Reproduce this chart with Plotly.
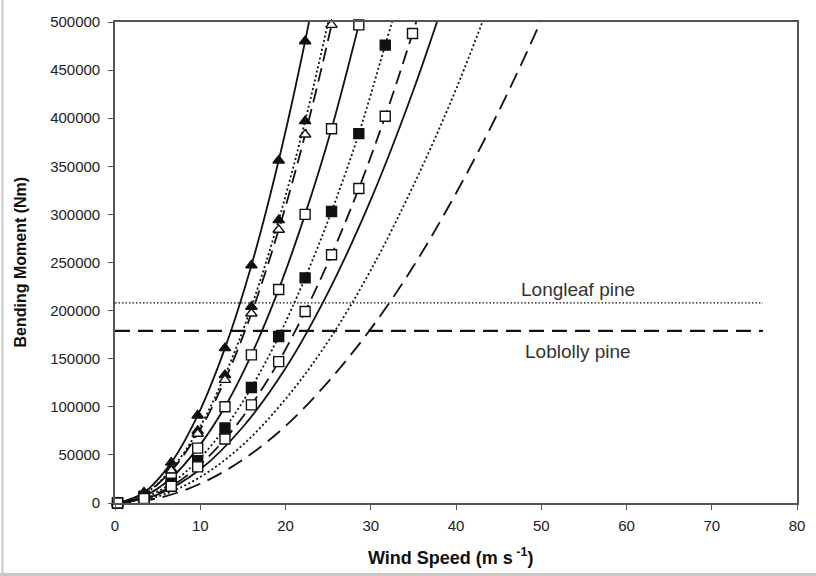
import plotly.graph_objects as go

# ---- data ----
speed_mk = [0.3, 3.4, 6.6, 9.7, 12.9, 16.0, 19.2, 22.3, 25.4, 28.6, 31.7, 34.9, 38.0]

# group 1 : steepest curves (triangles)
g1_solid_line = [0, 11000, 42000, 91000, 161000, 247000, 356000, 480000, 623000]
g1_solid_mk = [0, 11000, 42000, 91000, 161000, 247000, 356000, 480000]
g1_dot_line = [0, 9000, 35000, 75000, 133000, 204000, 294000, 397000, 515000]
g1_dot_mk = [0, 9000, 35000, 75000, 133000, 204000, 294000, 397000]
g1_dash_line = [0, 8900, 33500, 72000, 128000, 197000, 284000, 383000, 497000, 630000]
g1_dash_mk = [0, 8900, 33500, 72000, 128000, 197000, 284000, 383000, 497000]

# group 2 : squares
g2_solid_line = [0, 7000, 26000, 57000, 100000, 154000, 222000, 300000, 389000, 497000, 606000]
g2_solid_mk = [0, 7000, 26000, 57000, 100000, 154000, 222000, 300000, 389000, 497000]
g2_dot_line = [0, 5400, 20500, 44000, 78000, 120000, 173000, 234000, 303000, 384000, 476000, 573000]
g2_dot_mk = [0, 5400, 20500, 44000, 78000, 120000, 173000, 234000, 303000, 384000, 476000]
g2_dash_line = [0, 4600, 17400, 37600, 66500, 102000, 147000, 199000, 258000, 327000, 402000, 488000, 578000]
g2_dash_mk = [0, 4600, 17400, 37600, 66500, 102000, 147000, 199000, 258000, 327000, 402000, 488000]

# group 3 : curves without markers
speed_ln = [0, 5, 10, 15, 20, 25, 30, 35, 40, 45, 50, 55]
g3_solid = [0, 8750, 35000, 79000, 140000, 219000, 315000, 429000, 560000]
g3_dot = [0, 6700, 27000, 60500, 108000, 168000, 242000, 330000, 430000, 545000]
g3_dash = [0, 5000, 20000, 45000, 80000, 126000, 181000, 246000, 322000, 407000, 502000, 608000]

# critical bending moments
thresh_x = [0, 76]
longleaf = 208000
loblolly = 179000
thresh_labels = ["Longleaf pine", "Loblolly pine"]
label_pos_x = 54.3
label_pos_y = [222000, 157000]

x_ticks = [0, 10, 20, 30, 40, 50, 60, 70, 80]
y_ticks = [0, 50000, 100000, 150000, 200000, 250000, 300000, 350000, 400000, 450000, 500000]

FONT = "Liberation Sans, Arial, sans-serif"
BLK = "#111111"
DOT = "2px,2.5px"
DASH = "14px,7px"

fig = go.Figure()


def line(x, y, dash, width=1.8):
    fig.add_trace(go.Scatter(
        x=x[:len(y)], y=y, mode="lines", line=dict(color=BLK, width=width, dash=dash, shape="spline", smoothing=1.0),
        showlegend=False, hoverinfo="skip"))


def marks(x, y, symbol, filled):
    fig.add_trace(go.Scatter(
        x=x[:len(y)], y=y, mode="markers", cliponaxis=False,
        marker=dict(symbol=symbol, size=10, color=BLK if filled else "white",
                    line=dict(color=BLK, width=1.4)),
        showlegend=False, hoverinfo="skip"))


# lines
line(speed_mk, g1_solid_line, "solid")
line(speed_mk, g1_dot_line, DOT)
line(speed_mk, g1_dash_line, DASH)
line(speed_mk, g2_solid_line, "solid")
line(speed_mk, g2_dot_line, DOT)
line(speed_mk, g2_dash_line, DASH)
line(speed_ln, g3_solid, "solid")
line(speed_ln, g3_dot, DOT)
line(speed_ln, g3_dash, "16px,8px")

# thresholds
fig.add_trace(go.Scatter(x=thresh_x, y=[longleaf, longleaf], mode="lines",
                         line=dict(color=BLK, width=1.3, dash="1.5px,2px"), showlegend=False, hoverinfo="skip"))
fig.add_trace(go.Scatter(x=thresh_x, y=[loblolly, loblolly], mode="lines",
                         line=dict(color=BLK, width=2.2, dash="15px,8px"), showlegend=False, hoverinfo="skip"))

# markers
marks(speed_mk, g1_solid_mk, "triangle-up", True)
marks(speed_mk, g1_dot_mk, "triangle-up", True)
marks(speed_mk, g1_dash_mk, "triangle-up", False)
marks(speed_mk, g2_solid_mk, "square", False)
marks(speed_mk, g2_dot_mk, "square", True)
marks(speed_mk, g2_dash_mk, "square", False)

for txt, yy in zip(thresh_labels, label_pos_y):
    fig.add_annotation(x=label_pos_x, y=yy, text=txt, showarrow=False,
                       font=dict(family=FONT, size=19, color="#333333"), xanchor="center", yanchor="middle")

# axis titles
fig.add_annotation(xref="paper", yref="paper", x=(451 - 115) / 682, y=(503 - 556) / 481,
                   text="<b>Wind Speed (m s<sup> -1</sup>)</b>", showarrow=False,
                   font=dict(family=FONT, size=18, color="#111111"), xanchor="center", yanchor="middle")
fig.add_annotation(xref="paper", yref="paper", x=(20 - 115) / 682, y=0.5, textangle=-90,
                   text="<b>Bending Moment (Nm)</b>", showarrow=False,
                   font=dict(family=FONT, size=16, color="#111111"), xanchor="center", yanchor="middle")

# outer light grey border (left and bottom)
fig.add_shape(type="line", xref="paper", yref="paper", x0=(2.5 - 115) / 682, x1=(2.5 - 115) / 682,
              y0=(503 - 576) / 481, y1=(503 - 0) / 481, line=dict(color="#c8c8c8", width=2))
fig.add_shape(type="line", xref="paper", yref="paper", x0=(0 - 115) / 682, x1=(816 - 115) / 682,
              y0=(503 - 574.5) / 481, y1=(503 - 574.5) / 481, line=dict(color="#c8c8c8", width=3))

axis_common = dict(showgrid=False, zeroline=False, showline=True, linecolor="#555555", linewidth=1.6,
                   mirror=True, ticks="outside", ticklen=5, tickwidth=1.3, tickcolor="#555555")

fig.update_xaxes(range=[0, 80], tickvals=x_ticks, ticklabelstandoff=3,
                 tickfont=dict(family=FONT, size=15, color="#222222"), **axis_common)
fig.update_yaxes(range=[0, 500000], tickvals=y_ticks, tickformat="d", ticklabelstandoff=5,
                 tickfont=dict(family=FONT, size=15, color="#222222"), **axis_common)

fig.update_layout(width=816, height=576, margin=dict(l=115, r=19, t=22, b=73, autoexpand=False),
                  paper_bgcolor="white", plot_bgcolor="white", showlegend=False)

fig.write_html("out.html")
